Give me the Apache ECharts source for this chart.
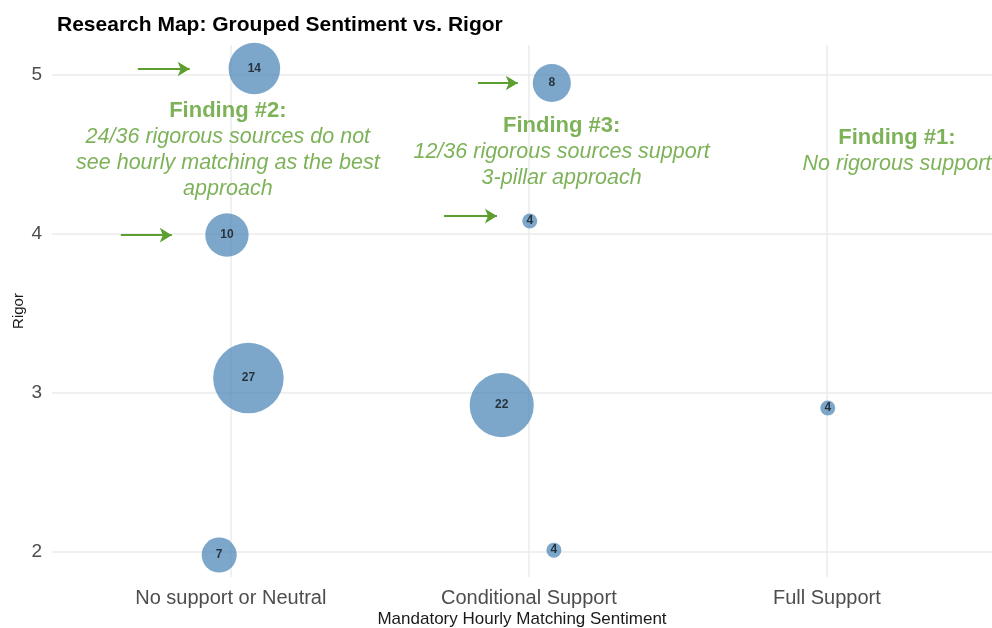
<!DOCTYPE html>
<html>
<head>
<meta charset="utf-8">
<script src="https://cdn.jsdelivr.net/npm/echarts@6/dist/echarts.min.js"></script>
<style>html,body{margin:0;padding:0;background:#fff}#c{width:992px;height:628px}</style>
</head>
<body>
<div id="c"></div>
<script>
// ---- data ----
var categories = ['No support or Neutral', 'Conditional Support', 'Full Support'];
var yTicks = [2, 3, 4, 5];
// jittered positions (x: category index 1..3, y: rigor) and counts
var xPos   = [1.079, 0.987, 1.059, 0.961, 2.077, 2.003, 1.909, 2.084, 3.003];
var yPos   = [5.038, 3.991, 3.091, 1.978, 4.947, 4.079, 2.921, 2.009, 2.903];
var counts = [14, 10, 27, 7, 8, 4, 22, 4, 4];

// annotation arrows: [x1, x2, y]
var arrowX1 = [0.688, 0.631, 1.829, 1.715];
var arrowX2 = [0.862, 0.802, 1.963, 1.893];
var arrowY  = [5.035, 3.990, 4.947, 4.110];

// annotation texts
var noteX = [0.99, 2.11, 3.235];
var noteY = [4.852, 4.758, 4.682];
var noteTitles = ['Finding #2:', 'Finding #3:', 'Finding #1:'];
var noteLines = [
  ['24/36 rigorous sources do not', 'see hourly matching as the best', 'approach'],
  ['12/36 rigorous sources support', '3-pillar approach'],
  ['No rigorous support']
];

var minC = Math.min.apply(null, counts), maxC = Math.max.apply(null, counts);
function diam(n) { return 15 + 55.5 * Math.sqrt((n - minC) / (maxC - minC)); }

var bubbleData = xPos.map(function (x, i) { return [x, yPos[i], counts[i]]; });
var arrowLines = arrowY.map(function (y, i) {
  return [{ coord: [arrowX1[i], y] }, { coord: [arrowX2[i], y] }];
});
var noteData = noteX.map(function (x, i) { return { value: [x, noteY[i]], idx: i }; });

var FONT = 'Liberation Sans, Arial, sans-serif';
var green = '#5c9f30';
var chart = echarts.init(document.getElementById('c'), null, { renderer: 'canvas' });
chart.setOption({
  animation: false,
  backgroundColor: '#ffffff',
  title: {
    text: 'Research Map: Grouped Sentiment vs. Rigor',
    left: 52, top: 10,
    textStyle: { fontFamily: FONT, fontSize: 21, fontWeight: 'bold', color: '#000' }
  },
  grid: { left: 52, right: 0, top: 45, bottom: 51, containLabel: false, outerBoundsMode: 'none' },
  xAxis: {
    type: 'value', min: 0.4, max: 3.554, interval: 1,
    name: 'Mandatory Hourly Matching Sentiment', nameLocation: 'middle', nameGap: 34,
    nameMoveOverlap: false,
    nameTextStyle: { fontFamily: FONT, fontSize: 17, color: '#1a1a1a' },
    axisLine: { show: false }, axisTick: { show: false },
    splitLine: { show: false },
    axisLabel: {
      margin: 11, fontFamily: FONT, fontSize: 20, color: '#4d4d4d',
      customValues: [1, 2, 3],
      formatter: function (v) { var k = Math.round(v); return (Math.abs(v - k) < 1e-6 && k >= 1 && k <= 3) ? categories[k - 1] : ''; }
    }
  },
  yAxis: {
    type: 'value', min: 1.84, max: 5.186,
    name: 'Rigor', nameLocation: 'middle', nameGap: 26, nameRotate: 90,
    nameMoveOverlap: false,
    nameTextStyle: { fontFamily: FONT, fontSize: 15, color: '#1a1a1a' },
    axisLine: { show: false }, axisTick: { show: false },
    splitLine: { show: false },
    axisLabel: {
      margin: 10, fontFamily: FONT, fontSize: 19, color: '#4d4d4d',
      customValues: yTicks,
      formatter: function (v) { return String(Math.round(v)); }
    }
  },
  series: [
    {
      // grid lines drawn through axis coordinates
      type: 'line', silent: true, data: [], symbol: 'none', z: 0, zlevel: 0,
      markLine: {
        silent: true, symbol: ['none', 'none'], label: { show: false }, z: 0,
        lineStyle: { color: '#ebebeb', width: 1.5, type: 'solid' },
        data: yTicks.map(function (t) { return { yAxis: t }; })
          .concat([1, 2, 3].map(function (t) { return { xAxis: t }; }))
      }
    },
    {
      type: 'scatter', name: 'bubbles', z: 5,
      data: bubbleData,
      symbolSize: function (d) { return diam(d[2]); },
      itemStyle: { color: '#4682b4', opacity: 0.7 },
      label: {
        show: true, position: 'inside',
        formatter: function (p) { return p.value[2]; },
        fontFamily: FONT, fontSize: 12, fontWeight: 'bold', color: '#000'
      }
    },
    {
      type: 'line', data: [], symbol: 'none', z: 4,
      markLine: {
        silent: true, symbol: ['none', 'arrow'], symbolSize: [11, 12],
        label: { show: false },
        lineStyle: { color: green, width: 2, type: 'solid' },
        data: arrowLines
      }
    },
    {
      type: 'scatter', name: 'notes', silent: true, z: 6,
      data: noteData, symbolSize: 0,
      label: {
        show: true, position: 'bottom', distance: 0,
        formatter: function (p) {
          var i = p.data.idx;
          return ['{t|' + noteTitles[i] + '}'].concat(noteLines[i].map(function (s) { return '{b|' + s + '}'; })).join('\n');
        },
        rich: {
          t: { fontFamily: FONT, fontSize: 22, fontWeight: 'bold', color: green, lineHeight: 26, align: 'center' },
          b: { fontFamily: FONT, fontSize: 21.5, fontStyle: 'italic', color: green, lineHeight: 26, align: 'center' }
        }
      }
    }
  ]
});
</script>
</body>
</html>
